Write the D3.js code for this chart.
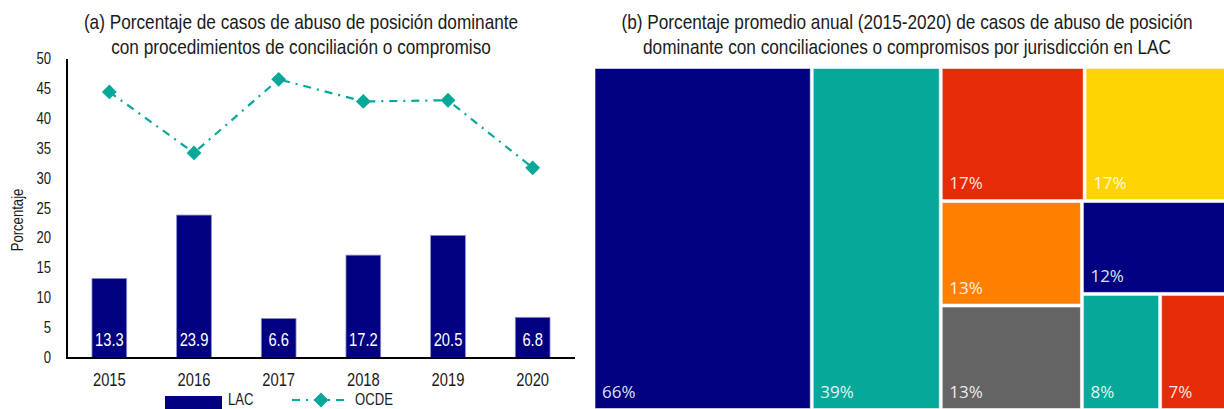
<!DOCTYPE html>
<html><head><meta charset="utf-8">
<script src="https://cdn.jsdelivr.net/npm/d3@7"></script>
<style>body{margin:0;background:#fff;} svg{display:block;}</style>
</head><body>
<svg id="c" width="1224" height="409"></svg>
<script>
// ---------- data ----------
const years = ["2015", "2016", "2017", "2018", "2019", "2020"];
const lacValues = [13.3, 23.9, 6.6, 17.2, 20.5, 6.8];
const ocdeValues = [44.5, 34.3, 46.6, 42.9, 43.1, 31.8];
const yTicks = [0, 5, 10, 15, 20, 25, 30, 35, 40, 45, 50];
const seriesNames = ["LAC", "OCDE"];
const titleA = ["(a) Porcentaje de casos de abuso de posición dominante",
                "con procedimientos de conciliación o compromiso"];
const yAxisTitle = "Porcentaje";
const titleB = ["(b) Porcentaje promedio anual (2015-2020) de casos de abuso de posición",
                "dominante con conciliaciones o compromisos por jurisdicción en LAC"];
const treeValues = [66, 39, 17, 17, 13, 13, 12, 8, 7];
const treeLabels = ["66%", "39%", "17%", "17%", "13%", "13%", "12%", "8%", "7%"];
const treeColors = ["#000080", "#05A899", "#E52B07", "#FDD300", "#FF7F00", "#646464", "#000080", "#05A899", "#E52B07"];
// nesting of the cells (indices into the arrays above)
const treeGroups = [0, 1, [[2, 3], [[4, 5], [6, [7, 8]]]]];

// ---------- setup ----------
const svg = d3.select("#c");
function textWidth(family) {
  const t = svg.append("text").attr("font-family", family).attr("font-size", 40).text("Porcentaje abcdef");
  const w = t.node().getComputedTextLength(); t.remove(); return w;
}
const hasNarrow = Math.abs(textWidth("'Liberation Sans Narrow', monospace") - textWidth("monospace")) > 1;
const NF = hasNarrow ? "'Liberation Sans Narrow', 'Arial Narrow', sans-serif" : "'Liberation Sans', Arial, sans-serif";
const NS = hasNarrow ? 1 : 0.82;
function ntext(parent, x, y, str, size, anchor, fill, rot) {
  const g = parent.append("g")
    .attr("transform", `translate(${x},${y})${rot ? ` rotate(${rot})` : ""} scale(${NS},1)`);
  return g.append("text").attr("font-family", NF).attr("font-size", size)
    .attr("text-anchor", anchor).attr("fill", fill).text(str);
}

// ---------- left chart ----------
const L = svg.append("g");
const x = d3.scaleBand().domain(years).range([67, 575]).paddingInner(0.59).paddingOuter(0.295);
const y = d3.scaleLinear().domain([0, 50]).range([358, 59]);

titleA.forEach((t, i) => ntext(L, 301, 29 + i * 25, t, 21, "middle", "#1a1a1a"));
ntext(L, 23, 220, yAxisTitle, 16, "middle", "#1a1a1a", -90);

// y tick labels
yTicks.forEach(v => ntext(L, 51, y(v) + 5, String(v), 16, "end", "#1a1a1a"));

// bars
L.selectAll("rect.bar").data(years).join("rect").attr("class", "bar")
  .attr("x", d => x(d)).attr("width", x.bandwidth())
  .attr("y", (d, i) => y(lacValues[i])).attr("height", (d, i) => y(0) - y(lacValues[i]))
  .attr("fill", "#000080").attr("stroke", "#8a8ac8").attr("stroke-width", 0.8);

// bar labels
years.forEach((d, i) => ntext(L, x(d) + x.bandwidth() / 2, 346, lacValues[i].toFixed(1), 18, "middle", "#ffffff"));

// axes lines
L.append("line").attr("x1", 67).attr("x2", 67).attr("y1", y(50)).attr("y2", y(0) + 1)
  .attr("stroke", "#000").attr("stroke-width", 2);
L.append("line").attr("x1", 66).attr("x2", 575).attr("y1", y(0)).attr("y2", y(0))
  .attr("stroke", "#000").attr("stroke-width", 2);

// x tick labels
years.forEach(d => ntext(L, x(d) + x.bandwidth() / 2, 386, d, 18, "middle", "#1a1a1a"));

// OCDE line
const cx = d => x(d) + x.bandwidth() / 2;
const line = d3.line().x((d, i) => cx(years[i])).y(d => y(d));
L.append("path").datum(ocdeValues).attr("d", line).attr("fill", "none")
  .attr("stroke", "#05A899").attr("stroke-width", 2.2).attr("stroke-dasharray", "8,6,2,6");
const diamond = d3.symbol(d3.symbolSquare, 110);
L.selectAll("path.mk").data(ocdeValues).join("path").attr("class", "mk")
  .attr("d", diamond)
  .attr("transform", (d, i) => `translate(${cx(years[i])},${y(d)}) rotate(45)`)
  .attr("fill", "#05A899");

// legend
L.append("rect").attr("x", 165).attr("y", 396).attr("width", 57).attr("height", 13).attr("fill", "#000080");
ntext(L, 228, 405, seriesNames[0], 16, "start", "#1a1a1a");
L.append("line").attr("x1", 292).attr("x2", 350).attr("y1", 400).attr("y2", 400)
  .attr("stroke", "#05A899").attr("stroke-width", 2.2).attr("stroke-dasharray", "8,6,2,6");
L.append("path").attr("d", diamond).attr("transform", "translate(321,400) rotate(45)").attr("fill", "#05A899");
ntext(L, 355, 405, seriesNames[1], 16, "start", "#1a1a1a");

// ---------- right chart: treemap ----------
const R = svg.append("g");
titleB.forEach((t, i) => ntext(R, 907, 29 + i * 25, t, 21, "middle", "#1a1a1a"));

function build(g) {
  if (Array.isArray(g)) return { children: g.map(build) };
  return { idx: g, value: treeValues[g] };
}
const root = d3.hierarchy(build(treeGroups)).sum(d => d.value || 0);
d3.treemap().tile(d3.treemapSliceDice).size([632, 340]).paddingInner(3)(root);

const T = R.append("g").attr("transform", "translate(595,68.5)");
const leaves = root.leaves();
T.selectAll("rect").data(leaves).join("rect")
  .attr("x", d => d.x0).attr("y", d => d.y0)
  .attr("width", d => d.x1 - d.x0).attr("height", d => d.y1 - d.y0)
  .attr("fill", d => treeColors[d.data.idx])
  .attr("stroke", "rgba(255,255,255,0.55)").attr("stroke-width", 1);
T.selectAll("text").data(leaves).join("text")
  .attr("x", d => d.x0 + 7).attr("y", d => d.y1 - 10.5)
  .attr("font-family", "'Open Sans', 'Noto Sans', sans-serif").attr("font-size", 17)
  .attr("fill", "rgba(255,255,255,0.9)")
  .text(d => treeLabels[d.data.idx]);
</script>
</body></html>
